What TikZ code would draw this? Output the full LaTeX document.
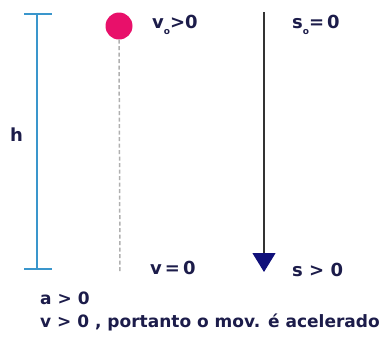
\documentclass[tikz,border=0pt]{standalone}
\usepackage{fontspec}
\setmainfont{DejaVu Sans}
\usetikzlibrary{arrows.meta}
\definecolor{bracketblue}{HTML}{3A96CC}
\definecolor{ballpink}{HTML}{E8106A}
\definecolor{textnavy}{HTML}{1C1C4A}
\definecolor{arrownavy}{HTML}{10107A}
\definecolor{dashgray}{HTML}{B0B0B0}
\newcommand{\subo}{\raisebox{-6pt}{\fontsize{9}{9}\selectfont o}}
\tikzset{
  lbl/.style={text=textnavy, font=\bfseries\fontsize{18}{21}\selectfont, inner sep=0pt, anchor=west},
  bottomlbl/.style={text=textnavy, font=\bfseries\fontsize{17}{20}\selectfont, inner sep=0pt, anchor=west},
  bracket/.style={draw=bracketblue, line width=2pt},
}
\begin{document}
\begin{tikzpicture}[x=1pt,y=-1pt]
\useasboundingbox (0,0) rectangle (389,349);
% bracket h
\coordinate (btop) at (37,14);
\coordinate (bbot) at (37,269);
\draw[bracket] (btop) -- (bbot);
\draw[bracket] ([xshift=-13pt]btop) -- ([xshift=15pt]btop);
\draw[bracket] ([xshift=-13pt]bbot) -- ([xshift=15pt]bbot);
\node[lbl] (h) at (10,135) {h};
% ball
\node[circle, fill=ballpink, minimum size=27pt, inner sep=0pt] (ball) at (119,26) {};
\coordinate (dend) at (120,272);
\draw[dashgray, line width=1.5pt, dash pattern=on 4pt off 2.5pt] (ball.south) -- (dend);
\node[lbl] (v0) at (152,25) {v\subo>0};
\node[lbl] (v) at (150,268) {v\,=\,0};
% s axis
\coordinate (stop) at (264,12);
\coordinate (sbot) at (264,272);
\draw[black!80, line width=1.2pt, -{Triangle[width=23pt,length=19pt,fill=arrownavy,color=arrownavy]}] (stop) -- (sbot);
\node[lbl] (s0) at (292,25) {s\subo=\,0};
\node[lbl] (s) at (292,270) {s > 0};
% bottom text
\node[bottomlbl] (a) at (40,298) {a > 0};
\node[bottomlbl] (vtext) at (40,322) {v > 0 , portanto o mov. é acelerado};
\end{tikzpicture}
\end{document}
